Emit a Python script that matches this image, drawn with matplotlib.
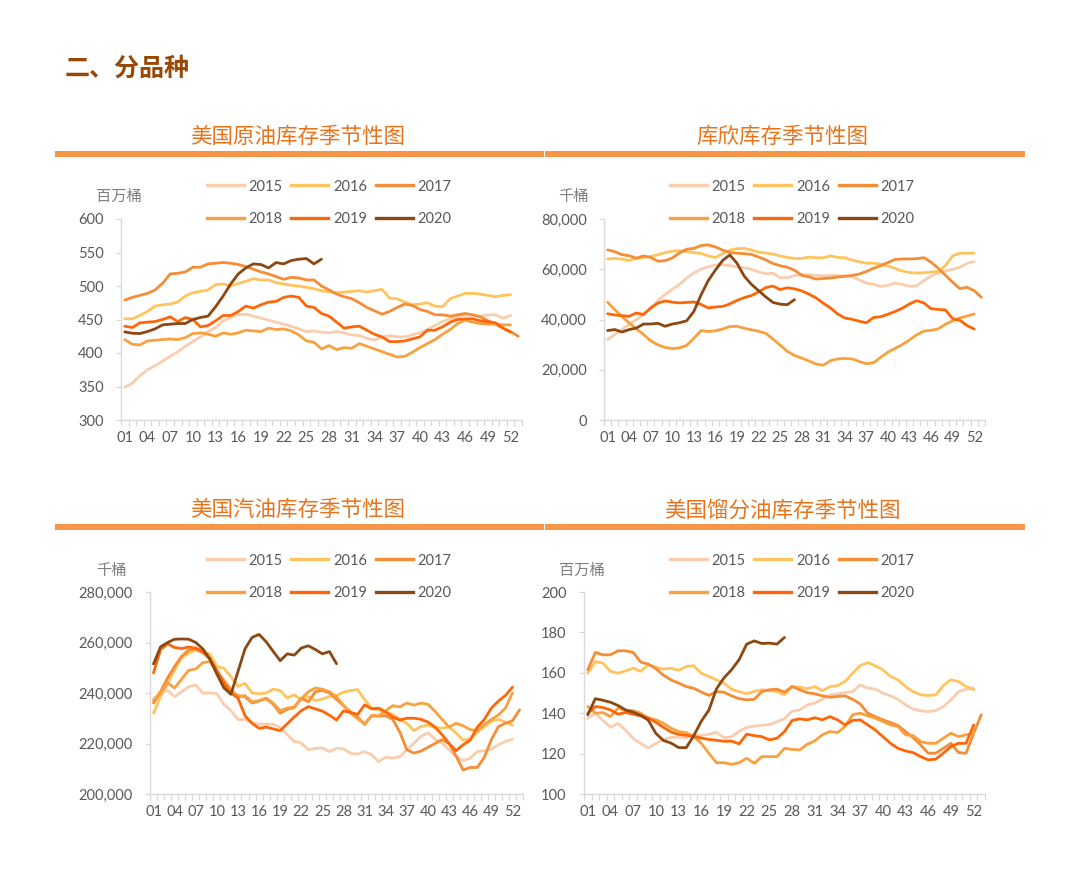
import numpy as np
import matplotlib
matplotlib.use('Agg')
import matplotlib.pyplot as plt
from matplotlib.ticker import FixedLocator, FuncFormatter
from matplotlib.lines import Line2D
from matplotlib.patches import Rectangle

plt.rcParams['font.family'] = ['Lato', 'Noto Sans CJK SC', 'DejaVu Sans']

# ---------------- data ----------------
years = ['2015', '2016', '2017', '2018', '2019', '2020']
week_ticks = list(range(1, 53, 3))
week_labels = [f'{w:02d}' for w in week_ticks]

# US crude inventory (million bbl)
crude_2015 = [349, 355, 366, 375, 381, 388, 395, 402, 410, 417, 424, 432, 438, 448, 453, 457, 458, 455, 452, 449,
              446, 443, 440, 436, 432, 433, 431, 430, 432, 430, 427, 426, 422, 419, 424, 426, 424, 424, 427, 430,
              435, 441, 447, 451, 454, 457, 456, 455, 457, 457, 452, 456]
crude_2016 = [451, 451, 456, 462, 470, 472, 473, 476, 485, 490, 492, 494, 502, 503, 500, 504, 507, 511, 509, 509,
              505, 503, 501, 500, 498, 496, 493, 491, 490, 491, 492, 493, 491, 493, 495, 482, 481, 476, 472, 473,
              475, 470, 469, 481, 485, 489, 489, 488, 486, 484, 486, 487]
crude_2017 = [479, 483, 486, 489, 494, 504, 518, 519, 521, 528, 528, 533, 534, 535, 534, 532, 529, 525, 521, 518,
              514, 510, 513, 512, 509, 509, 500, 494, 488, 484, 481, 475, 468, 463, 458, 462, 468, 473, 471, 465,
              462, 457, 457, 455, 457, 459, 457, 454, 448, 443, 437, 432, 425]
crude_2018 = [420, 413, 412, 418, 419, 420, 421, 420, 423, 429, 430, 428, 425, 430, 428, 430, 434, 433, 432, 437,
              435, 436, 433, 427, 418, 416, 406, 411, 405, 408, 407, 414, 410, 406, 402, 398, 394, 395, 401, 408,
              414, 420, 428, 435, 444, 449, 446, 444, 443, 443, 442, 442]
crude_2019 = [440, 438, 445, 446, 447, 450, 454, 447, 453, 450, 439, 441, 448, 456, 456, 462, 470, 467, 472, 476,
              477, 483, 485, 483, 470, 468, 459, 455, 446, 437, 439, 440, 434, 428, 424, 417, 417, 418, 421, 424,
              434, 434, 439, 446, 450, 451, 451, 448, 447, 445, 437, 431]
crude_2020 = [431.5, 429.5, 429, 432, 436, 442, 443, 444, 444, 450, 453, 455, 469, 485, 503, 518, 527, 533, 532, 527,
              535, 533, 538, 540, 541, 533, 540]

# Cushing inventory (thousand bbl)
cush_2015 = [32000, 34000, 36000, 38000, 40000, 42000, 44500, 47500, 50000, 52000, 54000, 56500, 58500, 60000, 61000,
             61700, 61800, 61500, 60900, 60600, 60000, 59000, 58200, 58400, 56600, 56600, 57500, 57800, 57800, 57600,
             57400, 57500, 57500, 57300, 57100, 55800, 54500, 54000, 53200, 53600, 54500, 54000, 53200, 53400, 55500,
             57300, 58500, 59400, 60000, 60800, 62300, 63100]
cush_2016 = [64100, 64300, 64000, 63500, 64300, 64700, 65100, 65800, 66600, 67200, 67400, 67000, 66600, 66300, 65300,
             64700, 66200, 67600, 68200, 68300, 67700, 66800, 66500, 66000, 65300, 64700, 64300, 64300, 64800, 64600,
             64500, 65400, 64700, 64600, 63600, 63000, 62400, 62400, 62000, 61300, 60300, 59300, 58700, 58500, 58600,
             58900, 59100, 61500, 65300, 66400, 66400, 66400]
cush_2017 = [67700, 67000, 65800, 65400, 64400, 65300, 64700, 63200, 63400, 64500, 66500, 68000, 68300, 69400, 69700,
             68900, 67600, 66700, 66400, 66200, 65900, 64900, 63700, 62300, 61400, 60800, 59600, 57600, 57000, 56100,
             56300, 56500, 56900, 57200, 57500, 58100, 59100, 60400, 61400, 62700, 63900, 64100, 64100, 64200, 64600,
             62800, 60400, 57600, 54800, 52300, 52800, 51500, 48800]
cush_2018 = [46900, 43900, 41200, 38600, 36300, 34000, 31500, 29900, 28900, 28400, 28700, 29700, 32500, 35600, 35200,
             35500, 36200, 37200, 37300, 36500, 35900, 35300, 34500, 32200, 29800, 27300, 25700, 24700, 23500, 22300,
             21800, 23600, 24300, 24500, 24300, 23300, 22400, 22800, 25000, 27000, 28500, 30000, 31900, 33900, 35400,
             35700, 36300, 38100, 39500, 40600, 41400, 42200]
cush_2019 = [42300, 41800, 41500, 41300, 42600, 42000, 44600, 46500, 47400, 46900, 46600, 46800, 47000, 46000, 44600,
             45000, 45200, 46200, 47600, 48700, 49500, 51000, 52700, 53300, 51900, 52600, 52200, 51400, 50100, 48600,
             46500, 44600, 42200, 40600, 40100, 39300, 38700, 40800, 41100, 42100, 43200, 44500, 46200, 47500, 46600,
             44300, 44000, 43800, 40300, 39700, 37600, 36200]
cush_2020 = [35600, 36000, 35000, 36000, 36600, 38200, 38200, 38500, 37300, 38200, 38700, 39500, 43200, 49800, 55500,
             59700, 63500, 65700, 62400, 57300, 54000, 51500, 49000, 46800, 46100, 45900, 47900]

# US gasoline inventory (thousand bbl)
gas_2015 = [237500, 240500, 241000, 238500, 240500, 242500, 243200, 240000, 240000, 239800, 235500, 233000, 229500,
            229500, 228200, 227600, 227800, 227600, 226300, 223500, 220800, 220200, 217500, 218100, 218200, 216800,
            218100, 217900, 216100, 215800, 216800, 215500, 212800, 214600, 214200, 214800, 217500, 220100, 222800,
            224300, 221700, 220100, 217500, 214800, 213200, 214200, 216800, 217100, 217700, 219500, 220800, 221700]
gas_2016 = [232000, 238600, 243900, 249200, 254000, 255800, 257000, 256000, 255500, 250500, 249800, 246500, 242600,
            243800, 240000, 239700, 240000, 241500, 241000, 238000, 239300, 237300, 238600, 237000, 237600, 238600,
            239000, 240300, 241000, 241300, 237300, 234000, 233300, 232500, 231500, 229500, 228000, 225100, 226700,
            227300, 226300, 226100, 226500, 224100, 221300, 221800, 224500, 226700, 228800, 229500, 228500, 227200]
gas_2017 = [236000, 240500, 246000, 250500, 254500, 257000, 257500, 256000, 253500, 248000, 243500, 240500, 239000,
            238500, 236000, 236800, 237800, 235500, 232000, 233500, 234200, 238000, 236500, 240500, 241000, 240000,
            237500, 235000, 232500, 230500, 227500, 231000, 230800, 231000, 229500, 224500, 217500, 216200, 217000,
            218500, 220000, 221500, 220000, 215000, 209500, 210500, 210500, 214500, 221500, 226700, 228000, 229000,
            233300]
gas_2018 = [237000, 240000, 244000, 242000, 245500, 249000, 249500, 252000, 252500, 248500, 245000, 241500, 238500,
            239000, 236500, 237000, 238000, 236000, 233000, 234000, 234500, 237800, 240500, 242000, 241500, 240500,
            238500, 235000, 232000, 229800, 227800, 231000, 231000, 233000, 235000, 234500, 236000, 235200, 236000,
            235500, 232800, 229500, 226500, 228000, 227000, 225500, 225000, 227500, 229500, 231300, 234000, 240000]
gas_2019 = [248000, 257200, 259500, 258000, 257600, 258200, 257800, 256500, 253500, 249000, 244000, 240000, 238000,
            231000, 228000, 226000, 226500, 225800, 225100, 227800, 230500, 233000, 234600, 233700, 232800, 231200,
            229300, 232900, 232300, 231500, 235300, 233700, 234000, 232400, 230500, 229300, 230000, 230000, 229600,
            228500, 226500, 223500, 220000, 217200, 219500, 221300, 226500, 229500, 234000, 236800, 239000, 242300]
gas_2020 = [251500, 258300, 260000, 261300, 261400, 261300, 260000, 257500, 253500, 247500, 242000, 239500, 248500,
            257500, 262000, 263200, 260300, 256500, 252800, 255500, 255000, 257800, 258700, 257200, 255500, 256400,
            251600]

# US distillate inventory (million bbl)
dist_2015 = [137.5, 140, 136.5, 133, 135, 131.5, 127.5, 125, 122.8, 125, 127, 128, 128.2, 127.9, 129.2, 129, 129.5,
             130.6, 127.8, 128.3, 131, 133, 133.6, 134, 134.3, 135.8, 137.2, 141, 141.6, 144.1, 145, 146.9, 149.1,
             149.6, 150.2, 150.7, 154, 152.4, 151.9, 149.9, 148.6, 146.9, 144.1, 142, 141.2, 140.8, 141.3, 143.3,
             146.6, 150.7, 151.9, 152.5]
dist_2016 = [159.8, 165.6, 164.8, 160.7, 159.8, 160.9, 162.3, 160.7, 164, 162.8, 161.8, 162.3, 161.2, 163.1, 163.5,
             159.8, 158.2, 156.5, 154.9, 151.9, 150.7, 149.6, 150.8, 151.6, 151.2, 150.7, 149.1, 153.2, 152.9, 152.1,
             153.2, 151.1, 153.2, 153.6, 155.7, 159.8, 163.5, 165.1, 163.5, 161.5, 158.2, 156.5, 153.2, 150.7, 149.1,
             148.8, 149.1, 153.7, 156.5, 155.7, 153.2, 151.6]
dist_2017 = [161.5, 170.1, 168.9, 168.9, 170.9, 170.9, 170.1, 165.3, 164.3, 162, 158.8, 156.5, 154.9, 153.2, 152.3,
             150.5, 148.8, 150.7, 150.4, 148.6, 147.2, 146.6, 146.9, 150.7, 151.6, 151.9, 150.4, 153.2, 151.6, 150.2,
             149.6, 148.6, 147.9, 148.3, 148.6, 146.9, 144.6, 140, 138.3, 136.7, 135.4, 133.9, 130.9, 127.9, 124.3,
             120.2, 120.2, 122.6, 125.1, 120.5, 120.2, 130.1, 139.2]
dist_2018 = [143.3, 140, 140.3, 138.3, 142.5, 141.3, 141.3, 140, 137.5, 136.7, 135, 132.6, 130.9, 130.4, 128.4, 125.1,
             120.2, 115.5, 115.5, 114.7, 115.5, 117.7, 115.2, 118.5, 118.5, 118.5, 122.6, 122.1, 121.8, 124.6, 126.3,
             129.3, 130.9, 130.4, 133.4, 139.2, 140, 138.7, 137.5, 135.9, 134.2, 133.4, 129.3, 128.9, 125.9, 125.1,
             125.1, 127.6, 130.1, 128.4, 129.3, 130.1]
dist_2019 = [140, 143.3, 142.8, 141.6, 139.5, 140.3, 139.5, 138.7, 137.7, 135.5, 133, 130.7, 129.5, 129.1, 128.5,
             127.7, 127, 126.6, 126.1, 126.2, 124.8, 129.6, 128.9, 128.4, 126.8, 127.6, 130.9, 136.4, 137.2, 136.7,
             137.8, 136.7, 138.3, 136.7, 134.2, 136.4, 136.7, 134.2, 131.7, 128.4, 125.1, 122.6, 121.3, 120.5, 118.5,
             116.9, 117.3, 120.2, 123.5, 125.1, 125.1, 134.2]
dist_2020 = [139.2, 147.2, 146.4, 145.4, 143.8, 141.6, 140.5, 138.9, 136.5, 130, 126.5, 125.2, 123, 122.9, 128.8, 136,
             141.5, 152, 157.5, 161.5, 166.5, 174.2, 175.8, 174.5, 174.7, 174.2, 177.5]

colors = ['#F9CDAE', '#FFC45E', '#F68C35', '#F9A03F', '#FF6608', '#8C4812']

# ---------------- layout helpers ----------------
W, H = 1080, 881
fig = plt.figure(figsize=(W / 100, H / 100), dpi=100)
fig.patch.set_facecolor('white')


def fx(px):
    return px / W


def fy(py):
    return 1 - py / H


AX_COL = '#D9D9D9'
TXT_COL = '#595959'


def make_chart(l, t, r, b, series, ylim, yticks, fmt, unit, unit_xy, legend_xy):
    ax = fig.add_axes([fx(l), fy(b), (r - l) / W, (b - t) / H])
    for vals, c in zip(series, colors):
        ax.plot(range(1, len(vals) + 1), vals, color=c, lw=2.0, solid_joinstyle='round',
                solid_capstyle='round')
    ax.set_xlim(0.5, 53.5)
    ax.set_ylim(*ylim)
    ax.set_yticks(yticks)
    ax.yaxis.set_major_formatter(FuncFormatter(fmt))
    ax.set_xticks(week_ticks)
    ax.set_xticklabels(week_labels)
    ax.xaxis.set_minor_locator(FixedLocator(np.arange(0.5, 54.0, 1.0)))
    ax.tick_params(axis='x', which='major', length=0, pad=8, labelsize=10.5, labelcolor=TXT_COL)
    ax.tick_params(axis='x', which='minor', length=4, width=0.9, color=AX_COL, direction='out')
    ax.tick_params(axis='y', which='major', length=3.5, width=0.9, color=AX_COL, pad=9,
                   labelsize=10.5, labelcolor=TXT_COL)
    for s in ['top', 'right']:
        ax.spines[s].set_visible(False)
    for s in ['left', 'bottom']:
        ax.spines[s].set_color(AX_COL)
        ax.spines[s].set_linewidth(1.0)
    ax.set_facecolor('none')
    # legend: rows 2015 2016 2017 / 2018 2019 2020
    handles = [Line2D([0], [0], color=c, lw=2.4) for c in colors]
    order = [0, 3, 1, 4, 2, 5]
    ax.legend([handles[i] for i in order], [years[i] for i in order], ncol=3, loc='center',
              bbox_to_anchor=(fx(legend_xy[0]), fy(legend_xy[1])), bbox_transform=fig.transFigure,
              frameon=False, fontsize=10.5, labelcolor=TXT_COL, handlelength=2.55, handletextpad=0.3,
              columnspacing=0.6, labelspacing=1.3, borderpad=0)
    fig.text(fx(unit_xy[0]), fy(unit_xy[1]), unit, fontsize=11, color='#7F7F7F', ha='left', va='center')
    return ax


int_fmt = lambda v, p: f'{int(round(v))}'
comma_fmt = lambda v, p: f'{int(round(v)):,}'

make_chart(121, 219, 522, 420,
           [crude_2015, crude_2016, crude_2017, crude_2018, crude_2019, crude_2020],
           (300, 600), list(range(300, 601, 50)), int_fmt, '百万桶', (96, 197), (329, 203))
make_chart(604, 219, 985, 420,
           [cush_2015, cush_2016, cush_2017, cush_2018, cush_2019, cush_2020],
           (0, 80000), list(range(0, 80001, 20000)), comma_fmt, '千桶', (558, 197), (792, 203))
make_chart(150, 592, 523, 794,
           [gas_2015, gas_2016, gas_2017, gas_2018, gas_2019, gas_2020],
           (200000, 280000), list(range(200000, 280001, 20000)), comma_fmt, '千桶', (96, 571), (329, 577))
make_chart(584, 592, 985, 794,
           [dist_2015, dist_2016, dist_2017, dist_2018, dist_2019, dist_2020],
           (100, 200), list(range(100, 201, 20)), int_fmt, '百万桶', (559, 571), (792, 577))

# ---------------- titles and decorations ----------------
fig.text(fx(65), fy(68), '二、分品种', fontsize=18, fontweight='bold', color='#984807',
         ha='left', va='center')

TITLE_COL = '#E8731A'
BAR_COL = '#F79646'
for (cx, cy, txt) in [(298, 137, '美国原油库存季节性图'), (782, 137, '库欣库存季节性图'),
                      (298, 510, '美国汽油库存季节性图'), (782, 510, '美国馏分油库存季节性图')]:
    fig.text(fx(cx), fy(cy), txt, fontsize=15.5, color=TITLE_COL, ha='center', va='center')

for ybar in (154, 527):
    for (x0, x1) in [(55, 544), (545, 1025)]:
        fig.patches.append(Rectangle((fx(x0), fy(ybar + 3)), (x1 - x0) / W, 6 / H,
                                     transform=fig.transFigure, color=BAR_COL, lw=0))

fig.savefig('out.png', dpi=100, facecolor='white')
